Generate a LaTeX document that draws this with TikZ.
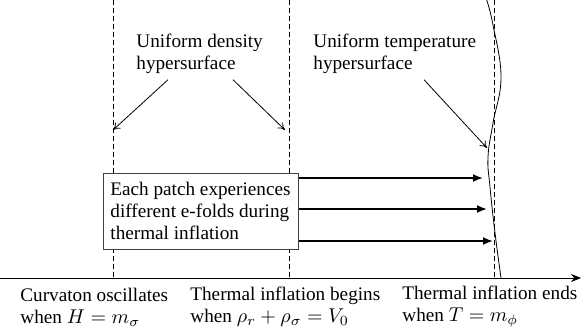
\documentclass[tikz,border=0pt]{standalone}
\usepackage{fontspec}
\setmainfont{Liberation Serif}
\usetikzlibrary{arrows.meta,positioning,calc}
\tikzset{
  guide/.style={dashed, dash pattern=on 2.5pt off 1.5pt, line width=0.4pt},
  lbl/.style={anchor=west, align=left, inner sep=0pt, font=\fontsize{9.6}{11}\selectfont},
  pointer/.style={-{To[length=3.5pt,width=4pt]}, line width=0.4pt},
  efold/.style={-{Latex[length=5pt,width=4pt]}, line width=0.9pt}
}

\begin{document}
\begin{tikzpicture}[x=0.5pt, y=-0.5pt]
\useasboundingbox (0,0) rectangle (581,327);

% Time axis
\coordinate (axstart) at (0,278);
\coordinate (axend) at (581,278);
\draw[-{Stealth[length=5pt,width=4pt]}, line width=0.4pt] (axstart) -- (axend);

% Dashed hypersurfaces
\draw[guide] (113,0) -- (113,278);
\draw[guide] (289,0) -- (289,278);
\draw[guide] (494,0) -- (494,278);

% Wavy uniform temperature hypersurface
\draw[line width=0.4pt] plot[smooth, tension=0.7] coordinates
  {(486.7,0) (493,25) (501,77) (493,123) (488,157) (490,187) (495,233) (501,278)};

% Top labels
\node[lbl] (dens) at (136,53.5) {Uniform density\\hypersurface};
\node[lbl] (temp) at (313,53.5) {Uniform temperature\\hypersurface};

\coordinate (densL) at (113,130);
\coordinate (densR) at (285,130);
\coordinate (tempT) at (487,148);
\draw[pointer] ($(dens.south west)+(32,6)$) -- (densL);
\draw[pointer] ($(dens.south west)+(97,6)$) -- (densR);
\draw[pointer] ($(temp.south west)+(111,6)$) -- (tempT);

% Patch box
\node[draw=black!75, fill=white, line width=0.5pt, align=left, minimum width=97.5pt, minimum height=38pt,
      inner sep=2pt, font=\fontsize{9.6}{11}\selectfont] (patch) at (200.5,211)
  {Each patch experiences\\different e-folds during\\thermal inflation};

\coordinate (tip1) at (483,178);
\coordinate (tip2) at (487,209);
\coordinate (tip3) at (493,241);
\draw[efold] (patch.east |- tip1) -- (tip1);
\draw[efold] (patch.east |- tip2) -- (tip2);
\draw[efold] (patch.east |- tip3) -- (tip3);

% Bottom labels
\node[lbl] (osc) at (20,307) {Curvaton oscillates\\when $H=m_\sigma$};
\node[lbl] (begin) at (190,307) {Thermal inflation begins\\when $\rho_r+\rho_\sigma=V_0$};
\node[lbl] (ends) at (402,307) {Thermal inflation ends\\when $T=m_\phi$};

\end{tikzpicture}
\end{document}
